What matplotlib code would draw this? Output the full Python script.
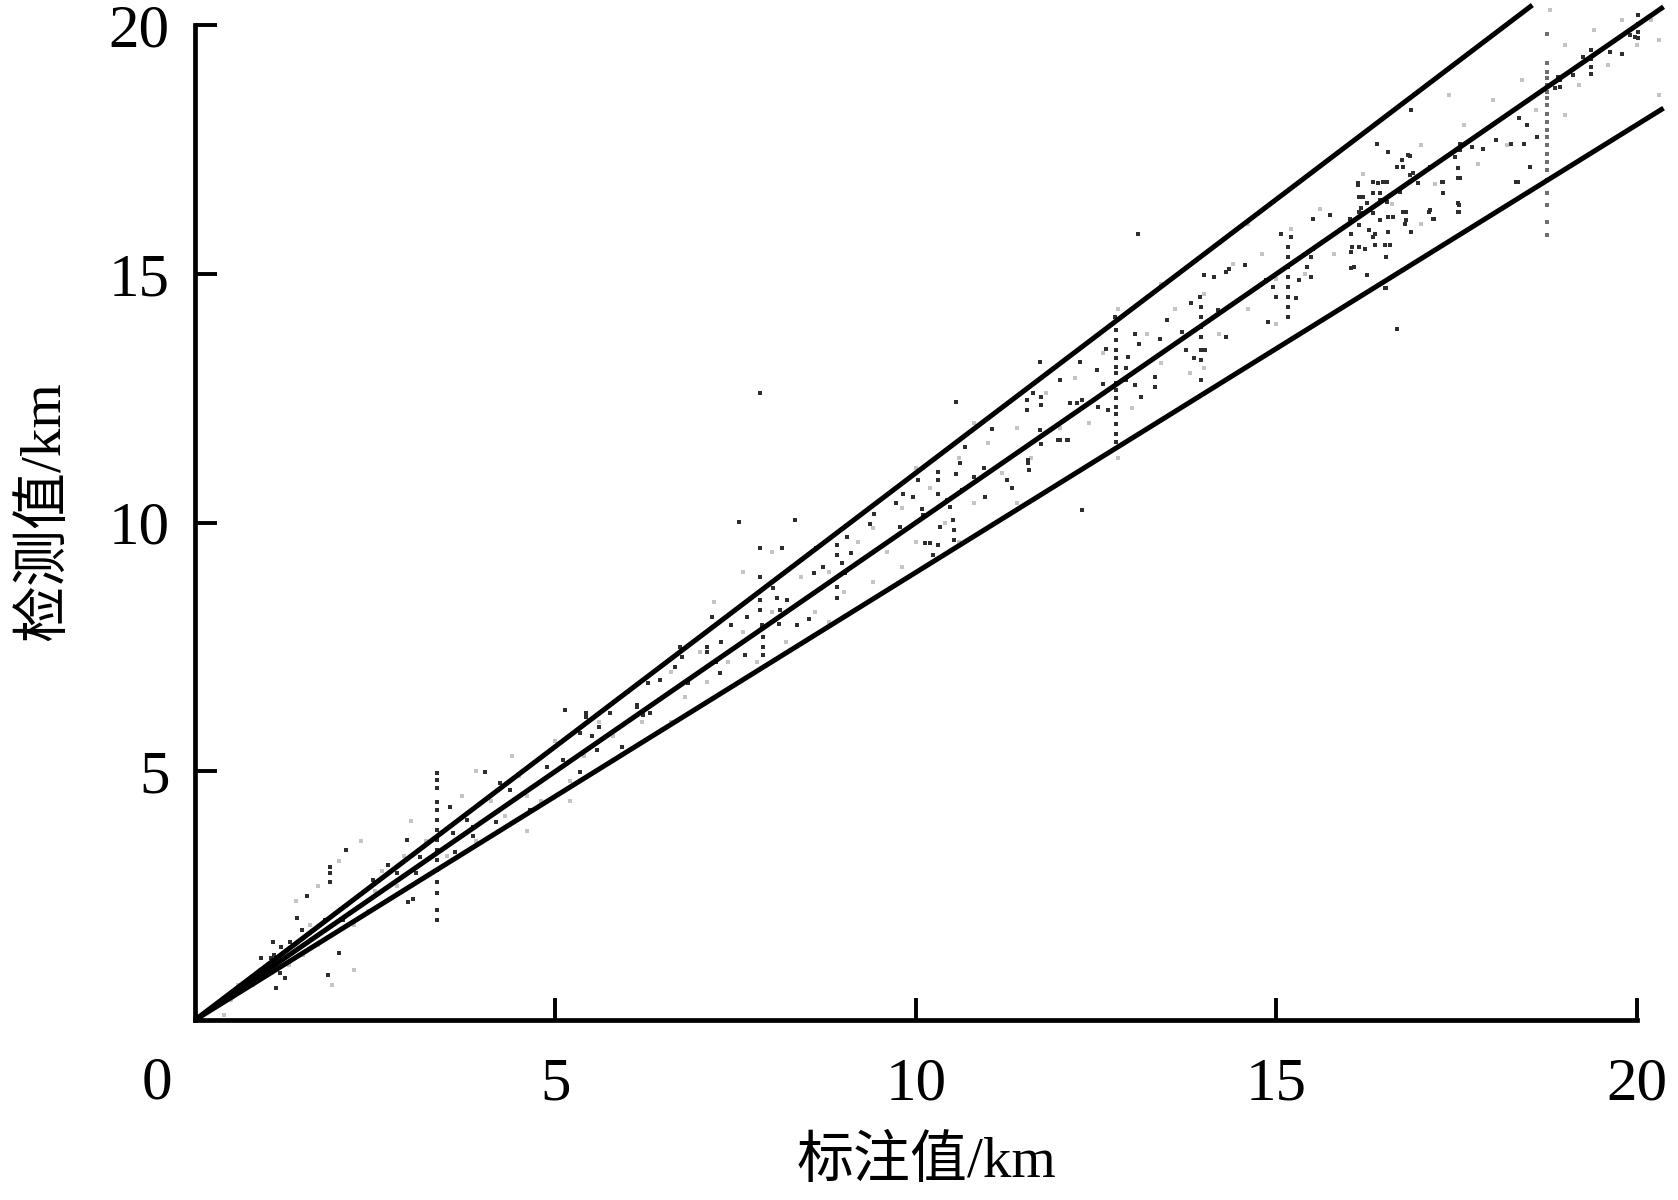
import matplotlib
matplotlib.use("Agg")
import matplotlib.pyplot as plt

# 检测值 vs 标注值 scatter
# dark points (vertical streaks + dense clusters)
dark_x = [
    1.09, 1.05, 1.20, 1.08, 1.32, 1.18, 1.12, 1.25, 0.92, 1.41, 1.48, 1.55,
    1.87, 1.87, 1.87, 2.10, 1.85, 2.00, 1.80, 2.06, 2.47, 2.68, 2.94, 2.80,
    3.07, 2.96, 3.03, 3.12,
    3.36, 3.36, 3.36, 3.36, 3.36, 3.36, 3.36, 3.36, 3.36, 3.36, 3.36, 3.36,
    3.36, 3.36, 3.36,
    3.54, 3.58, 3.60, 3.77, 3.86, 3.86, 4.02, 4.18, 4.20, 4.37, 4.23, 4.65,
    4.88, 5.11, 5.13, 5.34, 5.43, 5.50, 5.34, 5.57, 5.92, 6.13, 6.21,
    5.43, 5.61, 5.76, 6.13, 6.31, 6.29, 6.45, 6.66, 6.75, 6.73, 6.84, 7.10,
    7.10, 7.23, 7.30, 7.28, 7.17, 7.44, 7.63, 7.65, 7.84, 7.84, 7.84, 7.86,
    7.88, 7.88, 7.88, 8.02, 8.07, 8.21, 8.11, 8.10, 8.35, 8.51, 8.58, 8.58,
    8.62, 8.71, 8.90, 8.90, 8.97, 9.01, 8.90, 8.91, 9.04, 9.10, 9.36, 9.42,
    9.73, 9.78, 9.82, 9.96, 10.03, 10.10, 10.08, 10.12, 10.19, 10.24, 10.31,
    10.31, 10.31, 10.33, 10.31, 10.43, 10.47, 10.52, 10.53, 10.53, 10.56,
    10.61, 10.64, 10.80, 10.94, 10.96, 10.68, 11.05,
    7.84, 7.54, 8.32, 7.84, 8.14, 10.56, 11.33, 12.30,
    11.54, 11.54, 11.63, 11.74, 11.74, 11.72, 11.97, 12.11, 11.56, 12.14,
    11.56, 11.74, 12.00, 12.10, 11.72, 12.00, 12.23, 12.31, 12.27, 12.51,
    12.53, 12.64, 12.66, 12.60, 12.92, 12.94, 12.91, 13.04, 13.04, 13.10,
    13.12, 12.76, 13.31, 13.31, 13.38, 13.48, 13.69, 13.75, 13.82, 13.85,
    13.94, 11.57, 11.26,
    12.78, 12.78, 12.78, 12.78, 12.78, 12.78, 12.78, 12.78, 12.78, 12.78,
    12.78, 12.78, 12.78, 12.78, 13.08,
    13.95, 13.95, 13.95, 13.95, 13.95, 13.95, 13.95, 14.01, 13.99, 14.13,
    14.19, 14.30, 14.30, 14.34, 14.56, 14.86, 14.89, 14.95, 14.99, 15.07,
    15.16, 15.16, 15.16, 15.16, 15.16, 15.16, 15.16, 15.16,
    15.20, 15.27, 15.31, 15.42, 15.48, 15.48, 15.51, 15.51, 15.74, 16.02,
    16.04, 16.04, 16.13, 16.14, 16.14, 16.14, 16.14, 16.25, 16.25, 16.29,
    16.34, 16.34, 16.34, 16.41, 16.50, 16.52, 16.53, 16.53, 16.55, 16.55,
    16.67, 16.52, 16.67, 16.71, 16.74, 16.76, 16.78, 16.85, 16.85, 16.87,
    16.96, 17.13, 17.17, 17.13, 17.31, 17.31, 17.48, 17.55, 17.53, 17.53,
    18.33,
    16.87, 16.83, 16.55, 16.39, 17.52, 17.52, 17.52, 17.52, 17.30, 17.31,
    17.18, 17.11, 16.76, 16.90, 16.48, 16.34, 16.43, 16.43, 16.20, 16.20,
    16.17, 16.13, 16.80, 16.80, 16.62, 16.43, 16.37, 16.37, 16.57, 16.23,
    16.05, 16.03, 16.07, 16.25, 16.50,
    17.55, 17.55, 17.71, 17.87, 18.05, 18.26, 18.37, 18.35, 18.44, 18.48,
    18.52, 18.61,
    18.86, 18.94, 18.94, 18.90, 19.12, 19.37, 19.37, 19.37, 19.37, 19.25,
    19.63, 19.79, 19.90, 20.02, 20.02, 20.02, 20.02, 19.98,
]
dark_y = [
    1.31, 1.24, 1.47, 1.57, 1.57, 0.94, 0.64, 0.84, 1.24, 2.05, 1.81, 2.49,
    3.08, 2.95, 2.78, 3.42, 0.90, 1.35, 2.01, 2.01, 2.81, 3.12, 3.62, 2.95,
    2.95, 2.38, 2.44, 3.28,
    4.96, 4.82, 4.66, 4.39, 4.22, 4.02, 3.82, 3.62, 3.42, 3.22, 3.02, 2.78,
    2.55, 2.21, 2.01,
    4.29, 3.76, 3.38, 4.02, 3.89, 3.69, 4.99, 3.99, 4.21, 4.62, 4.76, 4.22,
    5.09, 5.23, 6.23, 5.76, 6.10, 5.70, 4.99, 5.43, 5.49, 6.30, 6.13,
    6.17, 5.90, 6.17, 6.33, 6.17, 6.77, 6.83, 7.10, 7.30, 7.50, 6.77, 7.50,
    7.40, 7.20, 7.60, 6.97, 8.11, 7.94, 7.34, 8.11, 8.91, 8.44, 8.24, 7.94,
    7.70, 7.50, 7.34, 8.68, 8.48, 8.44, 8.24, 7.97, 7.94, 8.07, 8.98, 8.58,
    9.48, 9.11, 9.55, 9.35, 9.18, 8.98, 8.71, 8.48, 9.71, 9.38, 9.98, 10.18,
    10.39, 9.92, 10.58, 10.52, 10.85, 10.15, 10.28, 9.58, 9.58, 9.35, 10.85,
    10.58, 11.02, 9.92, 9.55, 10.45, 10.32, 10.05, 9.85, 9.65, 10.98,
    11.19, 10.65, 10.92, 11.09, 10.52, 11.52, 11.89,
    12.60, 10.02, 10.05, 9.48, 9.48, 12.43, 10.69, 10.25,
    12.46, 12.26, 12.60, 12.36, 12.53, 11.86, 11.66, 11.66, 11.19, 12.40,
    11.26, 11.59, 11.66, 11.66, 13.23, 12.86, 12.40, 12.46, 13.23, 13.07,
    12.33, 13.50, 12.26, 12.79, 13.10, 13.33, 12.86, 13.80, 12.77, 13.60,
    12.53, 14.14, 12.93, 12.73, 13.70, 14.07, 13.84, 13.47, 14.41, 13.30,
    14.54, 11.06, 10.85,
    13.87, 13.67, 13.47, 13.30, 13.13, 13.00, 12.80, 12.66, 12.50, 12.33,
    12.19, 11.99, 11.79, 11.62, 15.81,
    14.34, 14.14, 13.94, 13.73, 13.47, 13.27, 12.86, 13.47, 14.97, 14.94,
    14.27, 13.74, 15.04, 15.10, 15.18, 14.87, 14.04, 14.74, 14.54, 15.81,
    15.54, 15.34, 15.14, 14.94, 14.74, 14.54, 14.34, 14.14,
    15.74, 14.51, 14.87, 15.14, 15.34, 14.94, 15.51, 16.11, 16.18, 16.11,
    15.44, 15.11, 16.82, 16.55, 16.25, 15.98, 15.54, 14.97, 16.42, 15.88,
    16.62, 16.22, 15.74, 16.82, 15.58, 15.34, 16.85, 16.45, 15.84, 16.15,
    17.15, 14.71, 13.90, 16.65, 17.28, 16.25, 16.01, 16.98, 17.38, 15.84,
    16.82, 17.15, 16.11, 16.28, 16.85, 16.62, 17.35, 16.92, 16.38, 16.25,
    16.85,
    18.29, 17.39, 17.45, 17.62, 17.12, 16.92, 16.42, 16.25, 16.85, 16.62,
    16.11, 16.25, 17.15, 17.02, 16.85, 16.85, 16.62, 16.48, 16.55, 16.22,
    16.32, 16.78, 16.25, 16.08, 16.15, 16.08, 15.81, 15.58, 15.58, 15.51,
    15.55, 15.81, 15.14, 14.97, 14.71,
    17.62, 17.49, 17.55, 17.52, 17.69, 17.62, 18.13, 16.85, 17.61, 18.00,
    17.15, 17.75,
    18.73, 18.89, 18.76, 18.96, 18.99, 19.50, 19.33, 19.16, 19.01, 19.36,
    19.46, 19.43, 19.80, 20.20, 20.03, 19.87, 19.75, 19.77,
]

# grey streak at 18.75 km
streak_x = [18.75] * 21
streak_y = [19.83, 19.23, 19.06, 18.93, 18.79, 18.66, 18.53, 18.39, 18.22,
            18.06, 17.89, 17.75, 17.59, 17.42, 17.25, 17.09, 16.88, 16.62,
            16.38, 16.05, 15.78]

# faint haze of points along the band
light_x = [
    0.3, 0.5, 0.6, 0.8, 0.9, 1.1, 1.3, 1.5, 1.6, 1.7, 1.9, 2.1, 2.2, 2.4, 2.5,
    2.6, 2.8, 2.9, 1.4, 1.7, 2.0, 2.3, 1.9, 2.2, 0.4,
    3.2, 3.5, 3.7, 3.9, 4.1, 4.3, 4.5, 4.6, 4.8, 5.0, 5.2, 5.4, 5.6, 5.8, 3.9,
    4.4, 3.0, 4.6, 5.2, 5.8,
    6.0, 6.2, 6.4, 6.6, 6.8, 7.0, 7.1, 7.4, 7.6, 7.8, 8.0, 8.2, 8.4, 8.6, 8.8,
    9.0, 9.2, 7.2, 7.6, 8.0, 8.8, 9.4, 6.6,
    9.4, 9.6, 9.8, 10.0, 10.2, 10.4, 10.6, 10.8, 11.0, 11.2, 11.4, 11.6, 11.8,
    12.0, 9.8, 10.6, 11.4, 10.0, 10.8,
    12.2, 12.4, 12.6, 13.0, 13.2, 13.4, 13.6, 13.8, 14.0, 14.2, 14.4, 14.6,
    14.8, 15.0, 15.2, 15.4, 15.6, 15.8, 12.8, 13.4, 14.6, 12.8, 14.0, 15.0,
    16.2, 16.6, 17.0, 17.2, 17.6, 17.8, 18.0, 18.2, 18.4, 18.6, 19.0, 19.2,
    19.4, 19.6, 19.8, 20.0, 20.2, 20.3, 17.4, 18.8, 19.0, 17.0, 20.3,
]
light_y = [
    0.3, 0.4, 0.7, 0.7, 1.0, 1.0, 1.1, 1.3, 1.9, 1.5, 1.7, 2.3, 1.9, 2.2, 2.6,
    3.0, 2.7, 3.3, 2.4, 2.7, 3.2, 3.6, 0.7, 1.0, 0.1,
    3.6, 3.3, 4.5, 3.6, 4.4, 4.1, 4.9, 4.5, 4.4, 5.6, 4.8, 5.3, 6.0, 5.7, 5.0,
    5.3, 4.0, 3.8, 4.4, 5.2,
    6.6, 6.0, 6.4, 7.0, 6.5, 7.4, 6.8, 7.2, 7.8, 7.2, 8.2, 7.6, 8.9, 8.2, 9.0,
    8.6, 9.6, 8.4, 9.0, 9.4, 8.0, 8.8, 6.0,
    9.9, 9.4, 10.3, 9.6, 10.7, 10.0, 11.3, 10.4, 11.6, 11.0, 11.9, 11.3, 12.6,
    11.9, 9.1, 9.6, 10.4, 11.1, 12.0,
    12.9, 12.0, 13.4, 12.3, 13.8, 13.2, 14.3, 13.0, 14.6, 13.8, 15.2, 14.3,
    15.4, 14.9, 15.9, 15.0, 16.3, 15.4, 14.3, 14.8, 16.0, 11.3, 13.1, 14.0,
    17.0, 16.4, 17.6, 16.8, 18.0, 17.2, 18.5, 17.6, 18.9, 18.3, 19.6, 18.8,
    19.9, 19.2, 20.1, 19.6, 20.1, 19.7, 18.6, 20.3, 18.2, 16.0, 18.6,
]

# reference lines y = k * x and where each one ends
slopes = [1.1, 1.0, 0.9]
line_end_x = [18.55, 20.37, 20.37]

xticks = [5, 10, 15, 20]
yticks = [5, 10, 15, 20]

serif = ['Liberation Serif', 'Noto Sans CJK SC']

fig = plt.figure(figsize=(16.78, 12.0), dpi=100)
ax = fig.add_axes([0.1162, 0.15, 0.8593, 0.829])

ax.scatter(light_x, light_y, s=8, marker='s', color='#c4c4c4',
           linewidths=0, clip_on=False, zorder=1)
ax.scatter(streak_x, streak_y, s=9, marker='s', color='#6e6e6e',
           linewidths=0, clip_on=False, zorder=2)
ax.scatter(dark_x, dark_y, s=8, marker='s', color='#2e2e2e',
           linewidths=0, clip_on=False, zorder=2)

for k, xe in zip(slopes, line_end_x):
    ax.plot([0, xe], [0, k * xe], color='black', lw=3.6,
            solid_capstyle='butt', clip_on=False, zorder=3)

ax.set_xlim(0, 20)
ax.set_ylim(0, 20)
ax.spines['top'].set_visible(False)
ax.spines['right'].set_visible(False)
for side in ['left', 'bottom']:
    ax.spines[side].set_linewidth(3.4)

ax.set_xticks(xticks)
ax.set_yticks(yticks)
ax.tick_params(direction='in', length=16, width=2.8, labelsize=44)
ax.tick_params(axis='x', pad=27)
ax.tick_params(axis='y', pad=18)
for lab in ax.get_xticklabels() + ax.get_yticklabels():
    lab.set_family(serif)
# lone "0" at the lower-left corner, level with the x tick labels
ax.text(-0.53, -0.72, '0', fontsize=44, family=serif, ha='center', va='top')

ax.set_xlabel('标注值/km', fontsize=41, family=serif, va='center',
              fontweight=500)
ax.xaxis.set_label_coords(0.5076, -0.1427)
ax.set_ylabel('检测值/km', fontsize=41, family=serif, va='center',
              fontweight=500)
ax.yaxis.set_label_coords(-0.104, 0.5116)

fig.savefig('out.png', dpi=100)
